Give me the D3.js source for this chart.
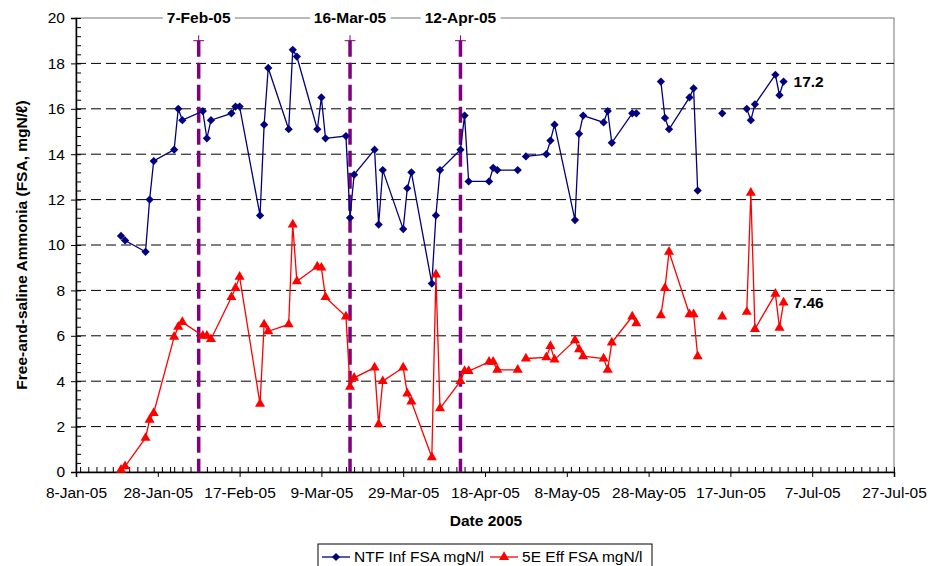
<!DOCTYPE html>
<html>
<head>
<meta charset="utf-8">
<script src="https://cdn.jsdelivr.net/npm/d3@7"></script>
<style>
  body { margin: 0; background: #fff; }
  svg { font-family: "Liberation Sans", Arial, sans-serif; }
</style>
</head>
<body>
<div id="chart"></div>
<script>
// sample dates (null values break the line)
var dates = [
    '2005-01-19', '2005-01-20', '2005-01-25', '2005-01-26', '2005-01-27',
    '2005-02-01', '2005-02-02', '2005-02-03', '2005-02-08', '2005-02-09', '2005-02-10',
    '2005-02-15', '2005-02-16', '2005-02-17', '2005-02-22', '2005-02-23', '2005-02-24',
    '2005-03-01', '2005-03-02', '2005-03-03', '2005-03-08', '2005-03-09', '2005-03-10',
    '2005-03-15', '2005-03-16', '2005-03-17', '2005-03-22', '2005-03-23', '2005-03-24',
    '2005-03-29', '2005-03-30', '2005-03-31', '2005-04-05', '2005-04-06', '2005-04-07',
    '2005-04-12', '2005-04-13', '2005-04-14', '2005-04-19', '2005-04-20', '2005-04-21',
    '2005-04-26', '2005-04-27', '2005-04-28', '2005-05-03', '2005-05-04', '2005-05-05',
    '2005-05-10', '2005-05-11', '2005-05-12', '2005-05-17', '2005-05-18', '2005-05-19',
    '2005-05-24', '2005-05-25', '2005-05-28', '2005-05-31', '2005-06-01', '2005-06-02',
    '2005-06-07', '2005-06-08', '2005-06-09', '2005-06-12', '2005-06-15', '2005-06-18',
    '2005-06-21', '2005-06-22', '2005-06-23', '2005-06-28', '2005-06-29', '2005-06-30'
];
var ntfInf = [
    10.4, 10.2, 9.7, 12.0, 13.7,
    14.2, 16.0, 15.5, 15.9, 14.7, 15.5,
    15.8, 16.1, 16.1, 11.3, 15.3, 17.8,
    15.1, 18.6, 18.3, 15.1, 16.5, 14.7,
    14.8, 11.2, 13.1, 14.2, 10.9, 13.3,
    10.7, 12.5, 13.2, 8.3, 11.3, 13.3,
    14.2, 15.7, 12.8, 12.8, 13.4, 13.3,
    13.3, null, 13.9, 14.0, 14.6, 15.3,
    11.1, 14.9, 15.7, 15.4, 15.9, 14.5,
    15.8, 15.8, null, 17.2, 15.6, 15.1,
    16.5, 16.9, 12.4, null, 15.8, null,
    16.0, 15.5, 16.2, 17.5, 16.6, 17.2
];
var effFsa = [
    0.1, 0.25, 1.5, 2.3, 2.6,
    5.95, 6.4, 6.6, 6.0, 6.0, 5.85,
    7.7, 8.1, 8.6, 3.0, 6.5, 6.2,
    6.5, 10.9, 8.4, 9.05, 9.0, 7.7,
    6.85, 3.75, 4.15, 4.6, 2.1, 4.0,
    4.6, 3.45, 3.1, 0.65, 8.7, 2.8,
    4.0, 4.45, 4.45, 4.85, 4.85, 4.5,
    4.5, null, 5.0, 5.05, 5.55, 4.95,
    5.8, 5.4, 5.1, 5.0, 4.5, 5.7,
    6.85, 6.55, null, 6.9, 8.1, 9.7,
    6.95, 6.95, 5.1, null, 6.85, null,
    7.05, 12.3, 6.3, 7.85, 6.35, 7.46
];
var xTickLabels = ['8-Jan-05', '28-Jan-05', '17-Feb-05', '9-Mar-05', '29-Mar-05', '18-Apr-05',
    '8-May-05', '28-May-05', '17-Jun-05', '7-Jul-05', '27-Jul-05'];
var yTicks = [0, 2, 4, 6, 8, 10, 12, 14, 16, 18, 20];
var eventDates = ['7-Feb-05', '16-Mar-05', '12-Apr-05'];
var seriesNames = ['NTF Inf FSA mgN/l', '5E Eff FSA mgN/l'];

var parseIso = d3.utcParse('%Y-%m-%d');
var parseLbl = d3.utcParse('%d-%b-%y');

var svgWidth = 938, svgHeight = 566;
var margin = { left: 76, right: 44, top: 18, bottom: 94 };
var width = svgWidth - margin.left - margin.right;
var height = svgHeight - margin.top - margin.bottom;

var svg = d3.select('#chart').append('svg')
    .attr('width', svgWidth)
    .attr('height', svgHeight);
var g = svg.append('g')
    .attr('transform', 'translate(' + margin.left + ',' + margin.top + ')');

var tickDates = xTickLabels.map(function(s) { return parseLbl(s); });
var x = d3.scaleUtc()
    .domain([tickDates[0], tickDates[tickDates.length - 1]])
    .range([0, width]);
var y = d3.scaleLinear().domain([0, 20]).range([height, 0]);

// plot border (grey top/right)
g.append('rect')
    .attr('width', width).attr('height', height)
    .attr('fill', 'none').attr('stroke', '#8c8c8c').attr('stroke-width', 1.2);

// dashed gridlines
g.selectAll('line.grid')
    .data(yTicks.filter(function(v) { return v > 0 && v < 20; }))
    .enter().append('line')
    .attr('class', 'grid')
    .attr('x1', 0).attr('x2', width)
    .attr('y1', function(d) { return y(d); })
    .attr('y2', function(d) { return y(d); })
    .attr('stroke', '#000')
    .attr('stroke-width', 1)
    .attr('stroke-dasharray', '10,5');

// y axis: major outward, minor inward
var yMinor = d3.range(0, 20.01, 0.4);
g.append('g')
    .call(d3.axisLeft(y).tickValues(yMinor).tickSize(-5).tickFormat(''))
    .call(function(a) { a.select('.domain').remove(); a.selectAll('line').attr('stroke', '#000'); });
var yAxis = g.append('g')
    .call(d3.axisLeft(y).tickValues(yTicks).tickSize(5).tickPadding(6));
yAxis.select('.domain').attr('stroke', '#000').attr('stroke-width', 1.5);
yAxis.selectAll('text').attr('font-size', '15.5px').attr('fill', '#000')
    .attr('font-family', '"Liberation Sans", Arial, sans-serif');

// x axis
var xMinor = d3.utcDay.every(2).range(tickDates[0], d3.utcDay.offset(tickDates[tickDates.length - 1], 1));
g.append('g')
    .attr('transform', 'translate(0,' + height + ')')
    .call(d3.axisBottom(x).tickValues(xMinor).tickSize(-5).tickFormat(''))
    .call(function(a) { a.select('.domain').remove(); a.selectAll('line').attr('stroke', '#000'); });
var xAxis = g.append('g')
    .attr('transform', 'translate(0,' + height + ')')
    .call(d3.axisBottom(x).tickValues(tickDates).tickSize(5).tickPadding(10)
        .tickFormat(function(d, i) { return xTickLabels[i]; }));
xAxis.select('.domain').attr('stroke', '#000').attr('stroke-width', 1.5);
xAxis.selectAll('text').attr('font-size', '15.5px').attr('fill', '#000')
    .attr('font-family', '"Liberation Sans", Arial, sans-serif');

// event lines
var events = eventDates.map(function(s) { return parseLbl(s); });
g.selectAll('line.event')
    .data(events)
    .enter().append('line')
    .attr('class', 'event')
    .attr('x1', function(d) { return x(d); })
    .attr('x2', function(d) { return x(d); })
    .attr('y1', y(19)).attr('y2', y(0))
    .attr('stroke', '#800080')
    .attr('stroke-width', 3.5)
    .attr('stroke-dasharray', '16,6');
g.selectAll('path.eventmark')
    .data(events)
    .enter().append('path')
    .attr('class', 'eventmark')
    .attr('transform', function(d) { return 'translate(' + x(d) + ',' + y(19) + ')'; })
    .attr('d', d3.symbol(d3.symbolCross2 || d3.symbolPlus, 40))
    .attr('fill', 'none')
    .attr('stroke', '#800080')
    .attr('stroke-width', 1);
var evLabels = g.selectAll('g.evlabel')
    .data(events)
    .enter().append('g')
    .attr('class', 'evlabel')
    .attr('transform', function(d) { return 'translate(' + x(d) + ',0)'; });
evLabels.append('text')
    .attr('text-anchor', 'middle')
    .attr('dy', '0.35em')
    .attr('font-size', '15.5px')
    .attr('font-weight', 'bold')
    .text(function(d, i) { return eventDates[i]; })
    .each(function() {
        var b = this.getBBox();
        d3.select(this.parentNode).insert('rect', 'text')
            .attr('x', b.x - 4).attr('y', b.y)
            .attr('width', b.width + 8).attr('height', b.height)
            .attr('fill', '#fff');
    });

// series
var series = [
    { name: seriesNames[0], values: ntfInf, color: '#000080', symbol: d3.symbolSquare, size: 34, rotate: 45 },
    { name: seriesNames[1], values: effFsa, color: '#ff0000', symbol: d3.symbolTriangle, size: 44, rotate: 0 }
];
var line = d3.line()
    .defined(function(d) { return d.v !== null; })
    .x(function(d) { return x(d.date); })
    .y(function(d) { return y(d.v); });

series.forEach(function(s) {
    var pts = dates.map(function(dt, i) { return { date: parseIso(dt), v: s.values[i] }; });
    g.append('path')
        .datum(pts)
        .attr('d', line)
        .attr('fill', 'none')
        .attr('stroke', s.color)
        .attr('stroke-width', 1.3);
    g.selectAll(null)
        .data(pts.filter(function(d) { return d.v !== null; }))
        .enter().append('path')
        .attr('transform', function(d) {
            return 'translate(' + x(d.date) + ',' + y(d.v) + ') rotate(' + s.rotate + ')';
        })
        .attr('d', d3.symbol(s.symbol, s.size))
        .attr('fill', s.color);
    var last = pts[pts.length - 1];
    g.append('text')
        .attr('x', x(last.date) + 10)
        .attr('y', y(last.v))
        .attr('dy', '0.35em')
        .attr('font-size', '15.5px')
        .attr('font-weight', 'bold')
        .text(last.v);
});

// axis titles
svg.append('text')
    .attr('x', margin.left + width / 2 + 1)
    .attr('y', 521)
    .attr('dy', '0.35em')
    .attr('text-anchor', 'middle')
    .attr('font-size', '15.5px')
    .attr('font-weight', 'bold')
    .text('Date 2005');
svg.append('text')
    .attr('transform', 'translate(22,' + (margin.top + height / 2) + ') rotate(-90)')
    .attr('dy', '0.35em')
    .attr('text-anchor', 'middle')
    .attr('font-size', '15.5px')
    .attr('font-weight', 'bold')
    .text('Free-and-saline Ammonia (FSA, mgN/\u2113)');

// legend
var legend = svg.append('g').attr('transform', 'translate(318,544)');
legend.append('rect')
    .attr('width', 334).attr('height', 30)
    .attr('fill', '#fff').attr('stroke', '#000').attr('stroke-width', 1);
var lx = 4;
series.forEach(function(s) {
    var item = legend.append('g').attr('transform', 'translate(' + lx + ',13)');
    item.append('line').attr('x1', 0).attr('x2', 28)
        .attr('stroke', s.color).attr('stroke-width', 1.3);
    item.append('path')
        .attr('transform', 'translate(14,0) rotate(' + s.rotate + ')')
        .attr('d', d3.symbol(s.symbol, s.size))
        .attr('fill', s.color);
    var t = item.append('text')
        .attr('x', 32)
        .attr('dy', '0.35em')
        .attr('font-size', '15.5px')
        .text(s.name);
    lx += 32 + t.node().getComputedTextLength() + 6;
});
</script>
</body>
</html>
